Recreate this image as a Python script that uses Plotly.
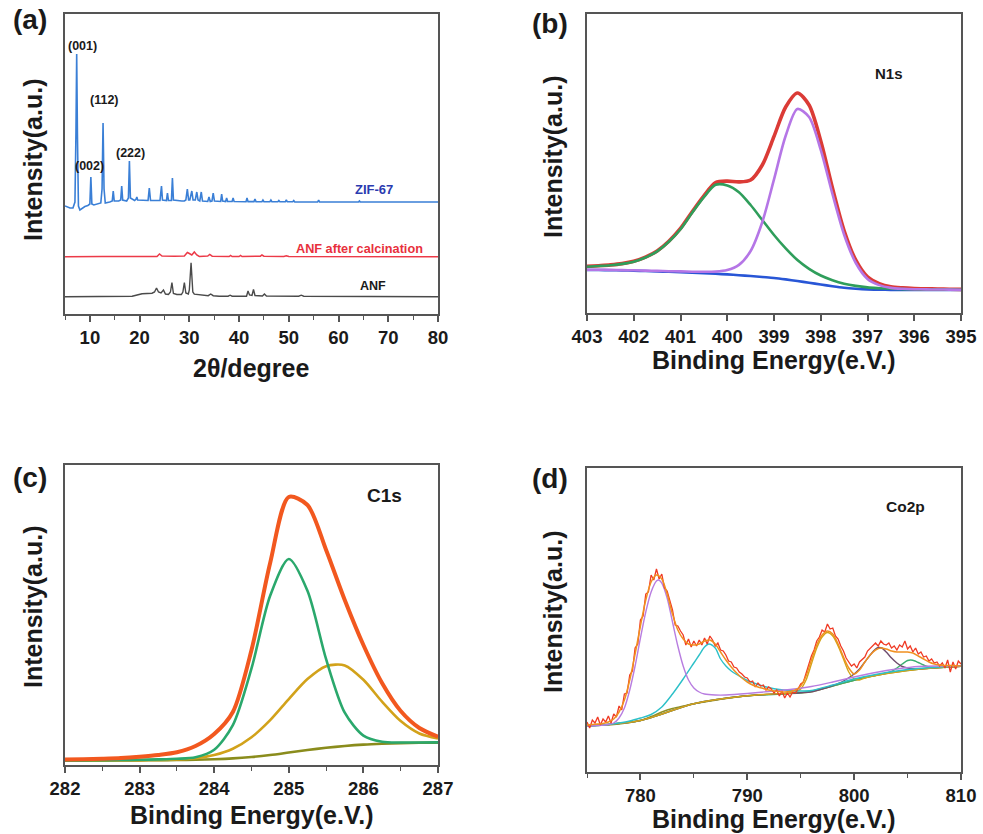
import plotly.graph_objects as go

W, H = 983, 834
FONT = "Liberation Sans, Arial, sans-serif"

# ---------------- (a) XRD data ----------------
zif_2theta = [5.0, 6.0, 6.6, 7.0, 7.2, 7.35, 7.5, 7.7, 8.0, 8.5, 9.0, 9.6, 10.0, 10.2, 10.4, 10.8, 11.5, 12.2,
              12.45, 12.65, 12.85, 13.1, 14.0, 14.5, 14.7, 14.9, 15.8, 16.2, 16.4, 16.6, 17.4, 17.75, 17.95,
              18.15, 19.0, 19.3, 19.45, 19.6, 21.7, 21.95, 22.2, 24.1, 24.4, 24.6, 25.4, 25.6, 25.8, 26.4, 26.6,
              26.8, 28.5, 29.0, 29.3, 29.6, 29.85, 30.1, 30.5, 30.75, 31.2, 31.5, 31.75, 32.1, 32.4, 32.65, 33.7,
              33.95, 34.2, 34.55, 34.8, 35.05, 36.3, 36.5, 36.7, 37.3, 37.5, 37.7, 38.6, 38.8, 39.0, 41.4, 41.6,
              41.8, 43.0, 43.2, 43.4, 44.6, 44.8, 45.0, 46.2, 46.4, 46.6, 47.8, 48.0, 48.2, 49.3, 49.5, 49.7,
              50.8, 51.0, 51.2, 55.8, 56.0, 56.2, 64.0, 64.2, 64.4, 80.0]
zif_int = [108, 106, 106, 112, 180, 260, 180, 108, 104, 106, 107.5, 108.5, 110, 137, 110, 109, 110, 111,
           125, 191, 125, 111, 112, 113, 123, 113, 113, 114, 128, 114, 113, 116, 153,
           116, 113.5, 115, 117, 114, 113.5, 126, 113.5, 113.5, 128, 114, 113.5, 121, 113.5, 113.5, 136,
           114, 113, 113, 114, 125, 114, 114, 123, 114, 114, 122, 114, 113, 122, 113, 112.5,
           117, 112.5, 113, 121, 113, 112.5, 120, 113, 112.5, 116, 112.5, 112.5, 116, 112.5, 112.3, 116,
           112.4, 112.4, 115, 112.4, 112.3, 114, 112.3, 112.3, 114, 112.3, 112.2, 113.5, 112.2, 112.2, 114, 112.2,
           112.2, 113.5, 112.1, 112, 114, 112, 112, 113, 112, 112]

anfc_2theta = [5, 11.5, 12, 12.5, 23.5, 24.0, 24.5, 26, 27, 29.0, 29.6, 30.0, 30.5, 31.0, 31.5, 32.0, 33.7,
               34.1, 34.6, 38, 38.3, 38.6, 40.0, 40.3, 40.6, 44.3, 44.6, 45, 49, 49.5, 50, 80]
anfc_int = [57.3, 57.5, 58.2, 57.5, 57.5, 60, 58, 57.5, 57.8, 58, 61.5, 60.5, 59, 62, 59, 57.5, 58,
            59.5, 57.8, 57.5, 58.5, 57.5, 57.5, 58.5, 57.5, 57.8, 59, 57.8, 57.5, 58.3, 57.5, 57.3]

anf_2theta = [5, 17, 18.5, 19.5, 20.5, 22.5, 23.0, 23.4, 23.8, 24.3, 24.8, 25.2, 25.8, 26.2, 26.5, 26.8, 27.5,
              28.4, 28.7, 29.0, 29.3, 29.8, 30.0, 30.35, 30.7, 31.0, 31.5, 32.5, 33.8, 34.3, 34.8, 36, 37.8,
              38.2, 38.6, 41.5, 41.8, 42.1, 42.6, 42.9, 43.2, 44.7, 45.1, 45.5, 47.5, 48, 48.5, 52, 52.5, 53, 80]
anf_int = [17.3, 17.3, 17.8, 19, 20.3, 20.8, 22, 26, 22, 21, 24, 20, 19.5, 22, 31.5, 20.5, 19.5,
           19.5, 22, 31.5, 21, 20, 24, 51.3, 22, 19.8, 19.5, 18.5, 18.3, 20, 18.3, 17.8, 17.8,
           18.8, 17.8, 17.8, 23, 19, 18.5, 24.5, 18.5, 18, 20, 18, 17.8, 18.5, 17.8, 17.8, 18.8, 17.8, 17.3]

# ---------------- (b) N1s data (403 -> 395 eV, step 0.25) ----------------
n1s_start, n1s_step = 403, -0.25
n1s_background = [43, 43, 42.8, 42.6, 42.3, 42, 41.6, 41.2, 40.8, 40.3, 39.8, 39.2, 38.6, 37.8, 37, 36, 35,
                  33.6, 32, 30.2, 28.5, 26.8, 25.3, 24.3, 23.6, 23.3, 23.1, 23, 23, 23, 23, 23, 23]
n1s_peak400 = [46.3, 47, 47.8, 49.1, 51.3, 55.5, 61.6, 71.2, 83.8, 100.3, 115.8, 128.2, 127.6, 120.8, 108, 93,
               78, 64.6, 53, 44.2, 37.5, 32.8, 29.3, 27.1, 25.6, 24.8, 24.2, 23.9, 23.7, 23.6, 23.5, 23.4, 23.3]
n1s_peak398 = [43.3, 43.3, 43.1, 42.9, 42.7, 42.4, 42.1, 41.8, 41.6, 41.3, 41.2, 41.4, 42.9, 48.1, 62, 91,
               133.6, 177.2, 204, 196, 163.1, 119, 78.3, 50, 34.1, 27.9, 25.1, 24.2, 23.8, 23.6, 23.5, 23.4, 23.3]
n1s_envelope = [46.6, 47.3, 48.1, 49.4, 51.7, 55.9, 62.1, 71.8, 84.6, 101.3, 117.2, 130.4, 131.9, 131.1, 133,
                148, 176.6, 206, 220, 208, 172.1, 125, 82.3, 52.8, 36.1, 29.4, 26.2, 25.1, 24.5, 24.2, 24,
                23.8, 23.6]

# ---------------- (c) C1s data (282 -> 287 eV, step 0.25) ----------------
c1s_start, c1s_step = 282, 0.25
c1s_background = [4.3, 4.3, 4.4, 4.5, 4.6, 4.8, 5, 5.3, 5.8, 6.6, 8, 10, 12.5, 15, 17.2, 19, 20.4, 21.3,
                  21.9, 22.2, 22.4]
c1s_peak285 = [4.5, 4.6, 4.8, 5.0, 5.2, 5.6, 6.2, 7.8, 15.3, 39.9, 96.6, 169.2, 206, 174.2, 105.8, 52.3,
               29.4, 23.3, 22.5, 22.5, 22.6]
c1s_peak2856 = [4.5, 4.5, 4.6, 4.7, 4.9, 5.1, 5.5, 6.8, 9.9, 16.2, 27.7, 44.8, 65.9, 85.9, 98.8, 99.6,
                85.2, 63.3, 43.9, 31.5, 26.6]
c1s_envelope = [5.5, 5.8, 6.3, 7.0, 8.3, 10, 12.7, 19, 31, 53, 115, 202, 268, 260, 215, 165, 120, 82, 54,
                37, 28.3]

# ---------------- (d) Co2p data ----------------
co_raw_start, co_raw_step = 775, 0.25
co_raw = [50, 44, 52, 49, 55, 47, 53, 50, 56, 49,
          58, 55, 66, 62, 78, 79, 97, 101, 124, 128,
          152, 156, 178, 180, 197, 192, 203, 193, 198, 184,
          181, 172, 162, 147, 146, 141, 137, 127, 133, 125,
          131, 126, 132, 127, 134, 128, 136, 132, 126, 129,
          122, 121, 117, 111, 110, 105, 104, 100, 98, 95,
          94, 90, 91, 85, 89, 86, 87, 82, 85, 83,
          79, 82, 76, 81, 74, 79, 75, 80, 79, 83,
          88, 90, 99, 106, 116, 122, 131, 135, 142, 140,
          148, 143, 144, 136, 133, 126, 121, 114, 110, 106,
          108, 104, 110, 113, 115, 121, 124, 127, 129, 126,
          131, 128, 127, 129, 124, 126, 122, 127, 125, 131,
          123, 126, 120, 124, 118, 120, 115, 116, 111, 113,
          109, 110, 106, 109, 104, 112, 100, 110, 103, 111,
          108]
co_fit_start, co_fit_step = 775, 0.5
co_fit = [47, 47.5, 48, 48.5, 50, 53, 60, 72, 92, 118, 146, 172, 190, 197, 193, 178, 158, 142, 133, 128,
          127, 128, 131, 132, 128, 120, 112, 105, 99, 94, 90, 87, 85, 83.5, 82, 81, 80.5, 80, 80.5, 82,
          86, 96, 112, 127, 137, 141, 138, 128, 115, 104, 98, 102, 110, 117, 122, 124, 123, 121, 120, 120,
          120, 119, 116, 113, 110, 108, 107, 106.6, 106.5, 106.2, 106]
co_bg_start, co_bg_step = 775, 1
co_background = [46, 46.5, 47, 48, 49.5, 51.5, 55.5, 60, 63.5, 66, 68.3, 70, 71.8, 73.5, 75, 76.2, 77, 77.6,
                 78.1, 78.6, 79.2, 80.2, 83, 86, 89, 91.8, 94.3, 96.5, 98.4, 100, 101.4, 102.6, 103.6, 104.4,
                 105.1, 105.7]
co_p1_be = [775, 776, 777, 777.5, 778, 778.5, 779, 779.5, 780, 780.5, 781, 781.5, 781.7, 782, 782.5, 783,
            783.5, 784, 784.5, 785, 785.5, 786, 787, 788, 790, 792, 794, 796, 798, 800, 802, 804, 806, 808, 810]
co_p1 = [46, 46.5, 47.5, 49, 54, 64, 82, 106, 134, 160, 180, 191, 192, 189, 174, 150,
         126, 106, 92, 84, 80, 78, 77, 77, 78.5, 80.5, 82.5, 85.5, 90, 95, 99.5, 103, 105.5, 106, 106]
co_p2_be = [775, 776, 777, 778, 779, 780, 781, 782, 783, 784, 785, 785.5, 786, 786.4, 787, 787.5, 788,
            788.5, 789, 789.5, 790, 791, 792, 793, 794, 795, 796, 798, 800, 802, 804, 806, 808, 810]
co_p2 = [46, 46.5, 47.5, 49, 51, 54, 57.5, 65, 78, 93, 109, 117, 125, 128, 124, 113, 106,
         101, 97.5, 94.5, 91.5, 87.5, 84.5, 82.5, 81.5, 81, 81.5, 87, 93, 97.5, 101, 103.5, 105, 106]
co_p3_be = [775, 780, 785, 790, 792, 793, 794, 794.5, 795, 795.5, 796, 796.5, 797, 797.5, 798, 798.5, 799,
            799.5, 800, 800.5, 801, 802, 804, 806, 808, 810]
co_p3 = [46, 51.5, 68.3, 76.2, 77.8, 78.3, 79, 80, 83, 92, 108, 124, 135, 139.5, 136, 126, 113,
         100, 93, 92, 94, 96.5, 100, 102.6, 104.4, 105.7]
co_p4_be = [775, 780, 785, 790, 795, 796, 797, 798, 799, 800, 800.5, 801, 801.5, 802, 802.3, 802.6, 803,
            803.5, 804, 804.5, 805, 806, 807, 808, 810]
co_p4 = [46, 51.5, 68.3, 76.2, 79.2, 80.2, 83, 86.5, 91, 98, 103, 110, 117, 123, 124.5, 124, 120,
         114, 109, 105.5, 104, 103, 103.8, 104.4, 105.7]
co_p5_be = [775, 780, 785, 790, 795, 798, 800, 802, 803, 803.5, 804, 804.5, 805, 805.3, 805.7, 806, 806.5,
            807, 808, 810]
co_p5 = [46, 51.5, 68.3, 76.2, 79.2, 86, 91.8, 96.5, 98.7, 100.5, 104, 108, 111.5, 112, 111, 109.5, 107,
         105, 104.5, 105.7]

# ---------------- figure ----------------
fig = go.Figure()


def line(color, width, spline=True):
    d = dict(color=color, width=width)
    if spline:
        d["shape"] = "spline"
        d["smoothing"] = 0.8
    return d


# (a)
fig.add_trace(go.Scatter(x=anf_2theta, y=anf_int, mode="lines", line=line("#4a4a4a", 1.4, False),
                         xaxis="x", yaxis="y"))
fig.add_trace(go.Scatter(x=anfc_2theta, y=anfc_int, mode="lines", line=line("#ec3a48", 1.5, False),
                         xaxis="x", yaxis="y"))
fig.add_trace(go.Scatter(x=zif_2theta, y=zif_int, mode="lines", line=line("#3a7fd6", 1.6, False),
                         xaxis="x", yaxis="y"))

# (b)
fig.add_trace(go.Scatter(x0=n1s_start, dx=n1s_step, y=n1s_background, mode="lines",
                         line=line("#2856d6", 2.6), xaxis="x2", yaxis="y2"))
fig.add_trace(go.Scatter(x0=n1s_start, dx=n1s_step, y=n1s_envelope, mode="lines",
                         line=line("#db3b36", 3.6), xaxis="x2", yaxis="y2"))
fig.add_trace(go.Scatter(x0=n1s_start, dx=n1s_step, y=n1s_peak400, mode="lines",
                         line=line("#2f9e5b", 2.6), xaxis="x2", yaxis="y2"))
fig.add_trace(go.Scatter(x0=n1s_start, dx=n1s_step, y=n1s_peak398, mode="lines",
                         line=line("#b576e6", 2.6), xaxis="x2", yaxis="y2"))

# (c)
fig.add_trace(go.Scatter(x0=c1s_start, dx=c1s_step, y=c1s_background, mode="lines",
                         line=line("#8a8c1c", 2.6), xaxis="x3", yaxis="y3"))
fig.add_trace(go.Scatter(x0=c1s_start, dx=c1s_step, y=c1s_peak2856, mode="lines",
                         line=line("#d2a21a", 2.6), xaxis="x3", yaxis="y3"))
fig.add_trace(go.Scatter(x0=c1s_start, dx=c1s_step, y=c1s_peak285, mode="lines",
                         line=line("#2aa86c", 2.6), xaxis="x3", yaxis="y3"))
fig.add_trace(go.Scatter(x0=c1s_start, dx=c1s_step, y=c1s_envelope, mode="lines",
                         line=line("#f2581f", 4.0), xaxis="x3", yaxis="y3"))

# (d)
fig.add_trace(go.Scatter(x0=co_bg_start, dx=co_bg_step, y=co_background, mode="lines",
                         line=line("#8f9020", 1.4), xaxis="x4", yaxis="y4"))
fig.add_trace(go.Scatter(x=co_p5_be, y=co_p5, mode="lines", line=line("#3aae70", 1.4), xaxis="x4", yaxis="y4"))
fig.add_trace(go.Scatter(x=co_p4_be, y=co_p4, mode="lines", line=line("#6e4c6e", 1.4), xaxis="x4", yaxis="y4"))
fig.add_trace(go.Scatter(x=co_p3_be, y=co_p3, mode="lines", line=line("#d4a418", 1.4), xaxis="x4", yaxis="y4"))
fig.add_trace(go.Scatter(x=co_p2_be, y=co_p2, mode="lines", line=line("#2cc0c8", 1.4), xaxis="x4", yaxis="y4"))
fig.add_trace(go.Scatter(x=co_p1_be, y=co_p1, mode="lines", line=line("#b87de0", 1.4), xaxis="x4", yaxis="y4"))
fig.add_trace(go.Scatter(x0=co_raw_start, dx=co_raw_step, y=co_raw, mode="lines",
                         line=line("#f03a24", 1.3, False), xaxis="x4", yaxis="y4"))
fig.add_trace(go.Scatter(x0=co_fit_start, dx=co_fit_step, y=co_fit, mode="lines",
                         line=line("#f09020", 1.5), xaxis="x4", yaxis="y4"))

# ---------------- layout ----------------
AX = "#555555"


def xaxis(domain, anchor, rng, dtick, minor_dtick=None, tick0=None):
    d = dict(domain=domain, anchor=anchor, range=rng, showline=True, linecolor=AX, linewidth=1.8,
             mirror=True, showgrid=False, zeroline=False, ticks="outside", ticklen=6, tickwidth=1.6,
             tickcolor=AX, dtick=dtick, automargin=False,
             tickfont=dict(family=FONT, size=18.5, color="#1a1a1a", weight="bold"))
    if tick0 is not None:
        d["tick0"] = tick0
    if minor_dtick:
        d["minor"] = dict(ticks="outside", ticklen=4, tickwidth=1.4, tickcolor=AX, dtick=minor_dtick,
                          showgrid=False)
    return d


def yaxis(domain, anchor, rng):
    return dict(domain=domain, anchor=anchor, range=rng, showline=True, linecolor=AX, linewidth=1.8,
                mirror=True, showgrid=False, zeroline=False, showticklabels=False, ticks="",
                automargin=False)


def fx(px):
    return px / W


def fy(py):
    return 1 - py / H


layout = dict(
    width=W, height=H, autosize=False, margin=dict(l=0, r=0, t=0, b=0, pad=0),
    paper_bgcolor="white", plot_bgcolor="white", showlegend=False,
    xaxis=xaxis([fx(65), fx(438)], "y", [5, 80], 10, 5, 0),
    yaxis=yaxis([fy(314), fy(14)], "x", [0, 300]),
    xaxis2=xaxis([fx(587), fx(961)], "y2", [403, 395], 1),
    yaxis2=yaxis([fy(313), fy(14)], "x2", [0, 299]),
    xaxis3=xaxis([fx(65), fx(438)], "y3", [282, 287], 1, 0.5),
    yaxis3=yaxis([fy(765), fy(465)], "x3", [0, 300]),
    xaxis4=xaxis([fx(587), fx(961)], "y4", [775, 810], 10, 5, 780),
    yaxis4=yaxis([fy(772), fy(468)], "x4", [0, 304]),
)

ann = []


def text(s, px, py, size, color="#1a1a1a", angle=0):
    ann.append(dict(text=s, x=fx(px), y=fy(py), xref="paper", yref="paper", showarrow=False,
                    xanchor="center", yanchor="middle", textangle=angle,
                    font=dict(family=FONT, size=size, color=color, weight="bold")))


# panel labels
text("(a)", 30, 20, 28)
text("(b)", 550, 23, 28)
text("(c)", 30, 477, 28)
text("(d)", 550, 478, 28)
# axis titles
text("Intensity(a.u.)", 33, 160, 25, angle=-90)
text("Intensity(a.u.)", 553, 157, 25, angle=-90)
text("Intensity(a.u.)", 33, 607, 25, angle=-90)
text("Intensity(a.u.)", 553, 612, 25, angle=-90)
text("2θ/degree", 251, 368, 25)
text("Binding Energy(e.V.)", 774, 360, 25)
text("Binding Energy(e.V.)", 252, 815, 25)
text("Binding Energy(e.V.)", 774, 819, 25)
# in-panel labels
text("(001)", 82, 46, 12.5)
text("(112)", 104, 100, 12.5)
text("(002)", 89, 166, 12.5)
text("(222)", 130, 153, 12.5)
text("ZIF-67", 374, 189, 13, "#2b3bb0")
text("ANF after calcination", 359, 249, 12.7, "#e8303c")
text("ANF", 373, 286, 12.5)
text("N1s", 889, 73, 15)
text("C1s", 384, 495, 19)
text("Co2p", 905, 506, 15.5)

layout["annotations"] = ann
fig.update_layout(**layout)
fig.write_html("out.html", config={"responsive": False, "displayModeBar": False},
               post_script="document.body.style.margin='0px';document.body.style.overflow='hidden';")
